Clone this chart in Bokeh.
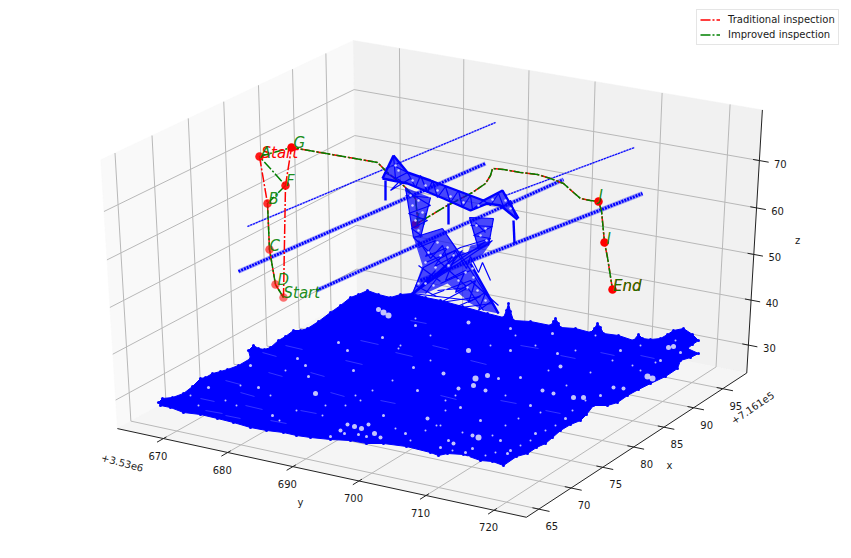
import numpy as np
from bokeh.plotting import figure
from bokeh.models import Range1d, Legend, LegendItem
from bokeh.core.properties import value
from bokeh.embed import file_html
from bokeh.resources import INLINE

# ---- axis values (the labelled "y" runs along the front, "x" along the right) ----
y_ticks = [670, 680, 690, 700, 710, 720]
x_ticks = [65, 70, 75, 80, 85, 90, 95]
z_ticks = [30, 40, 50, 60, 70]
y_lim = (662.75, 724.7)
x_lim = (63.1, 99.2)
z_lim = (23.7, 80.5)

# ---- data, in the picture's projected plane ----
trad_u = [259, 267, 269, 275, 283, 285, 291, 377, 388, 404, 415, 417, 415, 430, 445, 472, 485, 490, 492, 503, 520, 537, 550, 563, 573, 580, 590, 598, 601, 604, 607, 612]
trad_v = [156, 203, 249, 284, 297, 185, 147, 162, 173, 186, 198, 217, 224, 215, 206, 192, 183, 175, 168, 169, 172, 174, 178, 183, 192, 198, 200, 201, 210, 242, 257, 289]
impr_u = [283, 275, 269, 267, 285, 259, 291, 377, 388, 404, 415, 417, 415, 430, 445, 472, 485, 490, 492, 503, 520, 537, 550, 563, 573, 580, 590, 598, 601, 604, 607, 612]
impr_v = [297, 284, 249, 203, 185, 156, 147, 162, 173, 186, 198, 217, 224, 215, 206, 192, 183, 175, 168, 169, 172, 174, 178, 183, 192, 198, 200, 201, 210, 242, 257, 289]
way_u = [259, 267, 269, 275, 283, 285, 291, 415, 598, 604, 612]
way_v = [156, 203, 249, 284, 297, 185, 147, 224, 201, 242, 289]
way_alpha = [0.9, 0.8, 0.65, 0.6, 0.55, 0.9, 1.0, 0.9, 1.0, 1.0, 1.0]

label_text = ["A", "B", "C", "D", "Start", "F", "G", "H", "J", "I", "End"]
label_u = [260, 268, 269, 277, 283, 285.5, 293, 415, 598, 606, 612.5]
label_v = [157, 203, 250, 284, 297, 185, 147, 224, 200, 243, 290.5]
red_label_text = ["Start", "End"]
red_label_u = [261, 612.5]
red_label_v = [157, 290.5]

wire_u = [[247, 495], [238, 485], [316, 563], [420, 642], [505, 634]]
wire_v = [[226, 122], [271, 163], [290, 179], [280, 193], [195, 147]]
wire_w = [1.1, 2.8, 2.8, 3.0, 1.1]

ground_u = [158, 162, 172, 183, 192, 200, 205, 212, 220, 227, 238, 250, 248, 253, 258, 264, 270, 278, 285, 293, 300, 307, 318, 330, 340, 350, 358, 367, 378, 390, 400, 412, 425, 440, 462, 487, 503, 506, 508, 510, 513, 530, 550, 553, 555, 558, 560, 575, 590, 594, 597, 600, 603, 618, 633, 638, 642, 650, 660, 667, 673, 683, 692, 698, 692, 687, 698, 690, 680, 677, 665, 650, 638, 627, 617, 607, 593, 586, 580, 570, 560, 552, 545, 536, 527, 516, 503, 492, 480, 463, 447, 438, 430, 406, 383, 366, 350, 330, 310, 296, 283, 266, 250, 233, 217, 200, 183, 170, 160]
ground_v = [402, 398, 397, 393, 386, 378, 377, 373, 371, 369, 365, 358, 350, 345, 348, 349, 347, 340, 336, 330, 330, 328, 321, 312, 305, 297, 294, 290, 294, 297, 294, 293, 297, 300, 306, 313, 317, 310, 303, 311, 320, 321, 325, 321, 318, 323, 327, 328, 332, 328, 323, 327, 333, 335, 340, 334, 338, 339, 338, 334, 330, 328, 334, 340, 344, 348, 353, 357, 360, 368, 376, 383, 389, 395, 402, 405, 405, 414, 420, 424, 430, 437, 443, 447, 453, 456, 465, 461, 460, 454, 453, 455, 452, 446, 443, 443, 440, 439, 437, 435, 432, 430, 427, 422, 418, 414, 412, 407, 405]

gap_u = [315, 208, 258, 250, 297, 305, 347, 338, 353, 308, 272, 383, 417, 413, 382, 383, 388, 378, 468, 475, 487, 473, 458, 485, 443, 468, 510, 552, 560, 553, 542, 573, 583, 623, 613, 647, 652, 668, 673, 557, 510, 478, 472, 453, 427, 520, 498, 460, 507, 468, 340, 347, 354, 361, 368, 374, 380, 344, 358, 366, 330,
         440, 452, 465, 472, 485, 495, 510, 520, 530, 535, 545, 555, 565, 572, 585, 395, 405, 425, 436, 448, 462, 480, 492, 505, 518, 530, 540, 566, 590, 600, 612, 632, 640, 660, 675, 680, 225, 240, 270, 285, 325, 360, 372, 400, 415, 430, 445, 535, 548, 575, 595, 620, 640, 655, 415, 398, 430, 445, 455, 490, 505, 515, 500, 440, 410, 392, 322, 296, 279, 236, 190, 198, 355, 345]
gap_v = [393, 387, 387, 365, 358, 365, 350, 342, 370, 376, 415, 415, 390, 367, 337, 312, 315, 309, 350, 378, 375, 385, 388, 390, 373, 322, 328, 333, 366, 393, 390, 397, 397, 388, 387, 376, 378, 347, 346, 353, 350, 437, 435, 443, 418, 377, 378, 407, 453, 457, 430, 424, 426, 428, 424, 433, 437, 433, 434, 436, 436,
         447, 450, 452, 448, 455, 452, 450, 445, 440, 433, 430, 425, 418, 410, 400, 428, 433, 430, 425, 440, 432, 420, 435, 425, 418, 405, 412, 385, 372, 395, 360, 365, 345, 360, 340, 352, 400, 385, 395, 370, 405, 400, 390, 345, 325, 335, 400, 345, 370, 350, 335, 350, 370, 362, 318, 348, 360, 410, 395, 345, 395, 335, 440, 425, 440, 380, 415, 410, 420, 405, 395, 405, 395, 405]
gap_size = [5, 3, 3, 3, 3, 3, 3, 3, 3, 3, 3, 3, 3, 3, 3, 6, 6, 5, 5, 6, 5, 5, 4, 4, 4, 4, 3, 3, 4, 4, 4, 5, 5, 4, 4, 6, 6, 5, 5, 3, 3, 6, 4, 4, 4, 3, 3, 3, 3, 3, 4, 4, 5, 5, 4, 5, 4, 3, 3, 3, 3,
            3, 2, 3, 3, 2, 2, 3, 2, 2, 3, 2, 2, 3, 2, 2, 2, 3, 2, 2, 3, 2, 3, 2, 2, 2, 3, 2, 2, 2, 3, 2, 2, 2, 3, 2, 3, 2, 2, 2, 2, 2, 2, 2, 2, 3, 2, 2, 2, 2, 2, 2, 3, 2, 2, 2, 2, 2, 2, 2, 2, 2, 2, 3, 2, 2, 2, 2, 2, 2, 2, 2, 2, 2, 2]

streak_u = [[200, 214], [225, 240], [245, 262], [268, 282], [205, 222], [240, 254], [285, 302], [310, 324], [262, 276], [330, 344], [300, 316], [345, 362], [360, 378], [395, 412], [432, 448], [470, 486], [520, 538], [560, 575], [600, 614], [640, 654], [380, 395], [440, 456], [500, 516], [410, 426], [545, 560], [270, 286], [225, 240]]
streak_v = [[398, 401], [380, 384], [405, 409], [372, 376], [410, 413], [392, 396], [345, 349], [372, 376], [352, 356], [392, 396], [410, 413], [360, 364], [340, 344], [352, 356], [345, 349], [360, 364], [345, 348], [355, 358], [352, 355], [355, 358], [400, 403], [395, 399], [400, 403], [320, 323], [410, 413], [420, 423], [415, 418]]

tower_fill_u = [[393, 407, 430, 483, 502, 518, 500, 487, 470, 443, 407, 382], [405, 430, 420, 413], [469, 493, 488, 478],
                [413, 442, 458, 467, 470, 492, 483, 470, 498, 483, 470, 447, 425, 412, 422]]
tower_fill_v = [[155, 172, 180, 200, 190, 218, 205, 203, 210, 198, 183, 178], [187, 197, 237, 237], [217, 218, 245, 250],
                [237, 228, 250, 253, 245, 240, 253, 263, 313, 310, 303, 283, 293, 293, 265]]
tower_heavy_u = [[385, 385], [448, 448], [513, 514], [393, 407, 430, 483, 502, 518], [382, 407, 443, 470, 487, 500, 517], [382, 393], [470, 498], [447, 412]]
tower_heavy_v = [[180, 200], [203, 224], [220, 243], [155, 172, 180, 200, 190, 218], [178, 183, 198, 210, 203, 205, 219], [178, 155], [263, 313], [268, 293]]
tower_u = [
    [393, 395, 407, 415, 420, 427, 432, 437, 445, 450, 458, 462, 470, 472, 483, 490, 498, 503, 510, 515],
    [393, 407], [384, 400, 390, 410], [405, 413], [430, 420], [405, 430, 408, 427, 411, 422], [405, 428],
    [469, 478], [493, 488], [469, 493], [470, 492, 473, 490, 477], [475, 485],
    [413, 442], [413, 467, 483], [442, 465, 498], [418, 435, 425, 447, 434, 455, 445, 465, 455, 475, 468, 485, 478, 492],
    [418, 430, 442, 448, 455, 466, 470, 478, 482, 490],
    [490, 460, 423, 412], [492, 437, 425], [480, 450, 462, 436, 448, 425, 435, 416, 428, 414],
    [440, 470], [425, 455], [452, 485], [430, 470, 498], [412, 470], [437, 468, 440, 480, 452, 492], [418, 440], [415, 436],
]
tower_v = [
    [155, 178, 172, 187, 175, 192, 180, 197, 186, 202, 190, 207, 195, 209, 200, 205, 193, 206, 200, 216],
    [165, 172], [172, 180, 190, 178], [187, 237], [197, 237], [190, 205, 213, 220, 228, 236], [195, 197],
    [217, 248], [218, 245], [217, 218], [225, 226, 235, 238, 246], [222, 232],
    [237, 228], [237, 287, 310], [228, 262, 313], [247, 240, 256, 247, 266, 255, 280, 270, 292, 280, 302, 292, 310, 300],
    [240, 258, 245, 262, 250, 268, 256, 272, 262, 280],
    [238, 247, 267, 293], [240, 277, 293], [245, 265, 250, 275, 262, 283, 270, 290, 278, 293],
    [283, 270], [262, 250], [258, 245], [295, 280, 305], [293, 300], [290, 287, 302, 296, 308, 303], [265, 281], [285, 296],
]
window_u = [437, 447, 428, 440, 453, 425, 435, 448, 465, 473, 477, 485, 433, 445, 425, 418, 458, 467, 472, 418, 412, 422, 415, 418, 410, 476, 485, 480, 486, 398, 395, 412, 425, 437, 450, 463, 478, 492, 505, 510]
window_v = [242, 247, 252, 255, 255, 262, 267, 265, 272, 277, 290, 300, 285, 290, 283, 283, 280, 287, 268, 200, 205, 212, 220, 230, 195, 225, 228, 235, 240, 170, 165, 180, 185, 190, 196, 202, 205, 199, 200, 208]

# ---- projection of the 3-D box, elevation 30, azimuth -60 ----
ELEV, AZIM, DIST = np.radians(30), np.radians(-60), 10.0
centre = np.array([0.5, 0.5, 0.5])
eye = centre + DIST * np.array([np.cos(ELEV) * np.cos(AZIM), np.cos(ELEV) * np.sin(AZIM), np.sin(ELEV)])
n = (eye - centre) / np.linalg.norm(eye - centre)
r = np.cross([0, 0, 1.0], n); r /= np.linalg.norm(r)
s = np.cross(n, r)

def view(c):
    d = np.asarray(c, float) - eye
    w = -(d @ n)
    return (d @ r) / w, (d @ s) / w

box_corners = [(0, 0, 0), (1, 0, 0), (1, 1, 0), (1, 1, 1), (0, 1, 1), (0, 0, 1)]
box_pixels = [(117, 429), (526, 517), (746, 372), (762, 109), (353, 42), (100, 157)]
A = np.array([[*view(c), 1.0] for c in box_corners])
cu = np.linalg.lstsq(A, np.array([b[0] for b in box_pixels], float), rcond=None)[0]
cv = np.linalg.lstsq(A, np.array([b[1] for b in box_pixels], float), rcond=None)[0]

def P(c):
    a, b = view(c)
    return cu[0] * a + cu[1] * b + cu[2], cv[0] * a + cv[1] * b + cv[2]

def fy(t): return (t - y_lim[0]) / (y_lim[1] - y_lim[0])
def fx(t): return (t - x_lim[0]) / (x_lim[1] - x_lim[0])
def fz(t): return (t - z_lim[0]) / (z_lim[1] - z_lim[0])

def poly(cs):
    pts = [P(c) for c in cs]
    return [a for a, _ in pts], [b for _, b in pts]

p = figure(width=843, height=550, x_range=Range1d(0, 843), y_range=Range1d(550, 0),
           output_backend="svg", toolbar_location=None, min_border=0, outline_line_color=None)
p.axis.visible = False
p.grid.visible = False
p.background_fill_color = "white"

# panes
for cs, col in [([(0, 0, 0), (0, 1, 0), (0, 1, 1), (0, 0, 1)], "#f9f9f9"),
                ([(0, 1, 0), (1, 1, 0), (1, 1, 1), (0, 1, 1)], "#f1f1f1"),
                ([(0, 0, 0), (1, 0, 0), (1, 1, 0), (0, 1, 0)], "#f5f5f5")]:
    a, b = poly(cs)
    p.patch(a, b, fill_color=col, line_color=col, line_width=0.5)

# grid
gx, gy = [], []
for t in y_ticks:
    a, b = poly([(fy(t), 0, 0), (fy(t), 1, 0), (fy(t), 1, 1)]); gx.append(a); gy.append(b)
for t in x_ticks:
    a, b = poly([(1, fx(t), 0), (0, fx(t), 0), (0, fx(t), 1)]); gx.append(a); gy.append(b)
for t in z_ticks:
    a, b = poly([(0, 0, fz(t)), (0, 1, fz(t)), (1, 1, fz(t))]); gx.append(a); gy.append(b)
p.multi_line(gx, gy, line_color="#b8b8b8", line_width=1.0)

# axis lines and ticks
ax, ay = [], []
a, b = poly([(0, 0, 0), (1, 0, 0), (1, 1, 0), (1, 1, 1)]); ax.append(a); ay.append(b)
for t in y_ticks:
    a, b = poly([(fy(t), -0.025, 0), (fy(t), 0.012, 0)]); ax.append(a); ay.append(b)
for t in x_ticks:
    a, b = poly([(1.025, fx(t), 0), (0.985, fx(t), 0)]); ax.append(a); ay.append(b)
for t in z_ticks:
    a, b = poly([(1.022, 1, fz(t)), (0.985, 1, fz(t))]); ax.append(a); ay.append(b)
p.multi_line(ax, ay, line_color="#222222", line_width=1.0)

# tick labels
FONT = value("DejaVu Sans")
tu, tv, tt = [], [], []
for t in y_ticks:
    a, b = P((fy(t), 0, 0)); tu.append(a - 5.5); tv.append(b + 17); tt.append(str(t))
for t in x_ticks:
    a, b = P((1, fx(t), 0)); tu.append(a + 13); tv.append(b + 17); tt.append(str(t))
for t in z_ticks:
    a, b = P((1, 1, fz(t))); tu.append(a + 21); tv.append(b + 3); tt.append(str(t))
p.text(tu, tv, text=tt, text_font=FONT, text_font_size="10px", text_align="center",
       text_baseline="middle", text_color="#1a1a1a")
p.text([300, 669, 797], [502, 465, 240], text=["y", "x", "z"], text_font=FONT, text_font_size="10px",
       text_align="center", text_baseline="middle", text_color="#1a1a1a")
p.text([122, 752], [462, 407], text=["+3.53e6", "+7.161e5"], angle=[-0.26, 0.6], text_font=FONT,
       text_font_size="10px", text_align="center", text_baseline="middle", text_color="#1a1a1a")

# ground cloud
p.patch(ground_u, ground_v, fill_color="#0000ff", line_color="#0000ff", line_width=1.0)
p.scatter(ground_u, ground_v, marker="circle", size=3, fill_color="#0000ff", line_color=None)
p.multi_line(streak_u, streak_v, line_color="#b0b0ff", line_alpha=0.3, line_width=1.0)
p.scatter(gap_u, gap_v, marker="circle", size=gap_size, fill_color="#f4f4fb", fill_alpha=0.8, line_color=None)

# conductors
p.multi_line(wire_u, wire_v, line_color="#0000ff", line_alpha=0.35, line_width=[w * 1.6 for w in wire_w])
p.multi_line(wire_u, wire_v, line_color="#0000ff", line_width=wire_w, line_dash="2 1")

# routes
r_line = p.line(trad_u, trad_v, line_color="red", line_width=1.5, line_dash="10 2 2 2")
g_line = p.line(impr_u, impr_v, line_color="green", line_width=1.5, line_dash="10 2 2 2")
p.scatter(way_u, way_v, marker="circle", size=8.5, fill_color="red", fill_alpha=way_alpha, line_color=None)

OBL = "italic"
p.text(red_label_u, red_label_v, text=red_label_text, text_font=FONT, text_font_size="15px", text_font_style=OBL,
       text_color="red", text_baseline="alphabetic", y_offset=-5)
p.text(label_u, label_v, text=label_text, text_font=FONT, text_font_size="15px", text_font_style=OBL,
       text_color="green", text_baseline="alphabetic", text_alpha=0.9, y_offset=-5)

# tower
p.patches(tower_fill_u, tower_fill_v, fill_color="#0000ff", fill_alpha=0.7, line_color=None)
p.multi_line(tower_u, tower_v, line_color="#0000ff", line_width=1.2)
p.multi_line(tower_heavy_u, tower_heavy_v, line_color="#0000ff", line_width=2.4)
p.scatter(window_u, window_v, marker="circle", size=2.5, fill_color="#e8e8ff", fill_alpha=0.9, line_color=None)

legend = Legend(items=[LegendItem(label="Traditional inspection", renderers=[r_line]),
                       LegendItem(label="Improved inspection", renderers=[g_line])],
                location=(696, 505), margin=0, padding=3, spacing=2, glyph_width=20, glyph_height=13,
                label_standoff=8, label_text_font="DejaVu Sans", label_text_font_size="10px",
                label_text_color="#1a1a1a", border_line_color="#cccccc", background_fill_alpha=0.8, label_height=13)
p.add_layout(legend)

open("out.html", "w").write(file_html(p, INLINE))
